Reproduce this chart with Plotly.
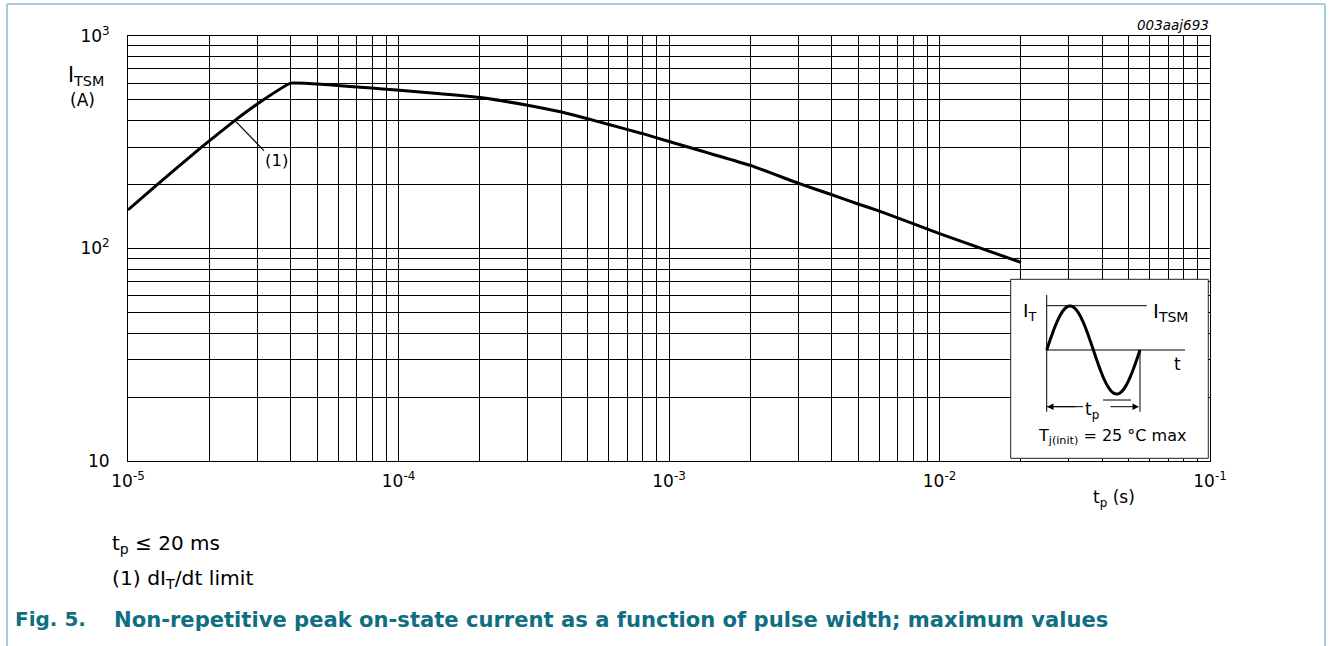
import numpy as np
import plotly.graph_objects as go

# ---- data ----
tp_s = [1e-5, 1.26e-5, 1.87e-5, 2.48e-5, 3.16e-5, 4e-5, 8.5e-5, 1.2e-4, 2e-4, 3e-4,
        4e-4, 5e-4, 6e-4, 8e-4, 1e-3, 2e-3, 3e-3, 4e-3, 5e-3, 6e-3, 1e-2, 2e-2]
itsm_a = [152, 196, 300, 400, 500, 600, 565, 545, 513, 472,
          439, 408, 383, 347, 319, 246, 203, 179, 162, 150, 117.5, 86]

x_decades = [1e-5, 1e-4, 1e-3, 1e-2, 1e-1]
x_ticklabels = ["10<sup>-5</sup>", "10<sup>-4</sup>", "10<sup>-3</sup>", "10<sup>-2</sup>", "10<sup>-1</sup>"]
y_decades = [10, 100, 1000]
y_ticklabels = ["10", "10<sup>2</sup>", "10<sup>3</sup>"]
grid_multipliers = [2, 3, 4, 5, 6, 7, 8, 9]

FONT = "DejaVu Sans, Liberation Sans, Arial, sans-serif"
TEAL = "#0f6e82"
FRAME = "#a6cfd9"

W, H = 1330, 646
L, R, T, B = 128, 1210, 36, 461


def px(x):
    return (x - L) / (R - L)


def py(y):
    return (B - y) / (B - T)


def minor_vals(decades):
    return [d * m for d in decades[:-1] for m in grid_multipliers]


fig = go.Figure()
fig.add_trace(go.Scatter(x=tp_s, y=itsm_a, mode="lines", line_shape="spline",
                         line=dict(color="black", width=3, smoothing=0.3), showlegend=False,
                         hoverinfo="skip"))

common = dict(showgrid=True, gridcolor="black", gridwidth=1,
              showline=True, linecolor="black", linewidth=1, mirror=True,
              ticks="outside", tickcolor="rgba(0,0,0,0)",
              tickfont=dict(family=FONT, size=17, color="black"), zeroline=False)

fig.update_xaxes(type="log", range=[-5, -1], tickmode="array", tickvals=x_decades,
                 ticktext=x_ticklabels, ticklen=5,
                 minor=dict(tickmode="array", tickvals=minor_vals(x_decades), showgrid=True,
                            gridcolor="black", gridwidth=1, ticks=""),
                 **common)
fig.update_yaxes(type="log", range=[1, 3], tickmode="array", tickvals=y_decades,
                 ticktext=y_ticklabels, ticklen=14,
                 minor=dict(tickmode="array", tickvals=minor_vals(y_decades), showgrid=True,
                            gridcolor="black", gridwidth=1, ticks=""),
                 **common)

shapes = []
ann = []

# page frame
for (x0, y0, x1, y1) in [(7, 4, 7, 646), (7, 4, 1325, 4), (1325, 4, 1325, 646)]:
    shapes.append(dict(type="line", xref="paper", yref="paper", x0=px(x0), y0=py(y0),
                       x1=px(x1), y1=py(y1), line=dict(color=FRAME, width=2)))

# pointer for (1)
shapes.append(dict(type="line", xref="paper", yref="paper", x0=px(235), y0=py(120.7),
                   x1=px(264), y1=py(150.7), line=dict(color="black", width=1.2)))

# inset box
shapes.append(dict(type="rect", xref="paper", yref="paper", x0=px(1010.7), y0=py(458.3),
                   x1=px(1208.3), y1=py(279.3), fillcolor="white",
                   line=dict(color="#222", width=1), layer="above"))
inset_lines = [
    (1046.7, 295, 1046.7, 411.7),
    (1046.7, 305.7, 1146.7, 305.7),
    (1046.7, 350, 1185, 350),
    (1140, 350, 1140, 411.7),
    (1047, 406.7, 1083, 406.7),
    (1103, 400, 1131, 400),
]
for (x0, y0, x1, y1) in inset_lines:
    shapes.append(dict(type="line", xref="paper", yref="paper", x0=px(x0), y0=py(y0),
                       x1=px(x1), y1=py(y1), line=dict(color="black", width=1), layer="above"))

# sine illustration in the inset
ph = np.linspace(0, 2 * np.pi, 80)
sx = 1046.7 + (1140 - 1046.7) * ph / (2 * np.pi)
sy = 350 - 44 * np.sin(ph)
path = "M " + " L ".join(f"{px(a):.5f},{py(b):.5f}" for a, b in zip(sx, sy))
shapes.append(dict(type="path", xref="paper", yref="paper", path=path,
                   line=dict(color="black", width=3), layer="above"))

# arrow heads
ann.append(dict(xref="paper", yref="paper", x=px(1047), y=py(406.7), ax=30, ay=0,
                text="", showarrow=True, arrowhead=2, arrowsize=1.3, arrowwidth=1, arrowcolor="black"))
ann.append(dict(xref="paper", yref="paper", x=px(1139), y=py(406.7), ax=-30, ay=0,
                text="", showarrow=True, arrowhead=2, arrowsize=1.3, arrowwidth=1, arrowcolor="black"))


def text(x, y, s, size=17, xanchor="center", color="black", bold=False, italic=False):
    if bold:
        s = f"<b>{s}</b>"
    if italic:
        s = f"<i>{s}</i>"
    ann.append(dict(xref="paper", yref="paper", x=px(x), y=py(y), text=s, showarrow=False,
                    xanchor=xanchor, yanchor="middle",
                    font=dict(family=FONT, size=size, color=color)))


text(1021, 312, "I<sub>T</sub>", size=18.5, xanchor="left")
text(1151, 312, "I<sub>TSM</sub>", size=20, xanchor="left")
text(1177, 364, "t", size=17)
text(1092, 410, "t<sub>p</sub>", size=17)
text(1112, 436, "T<sub>j(init)</sub> = 25 °C max", size=16)

text(1211, 25, "003aaj693", size=13.5, xanchor="right", italic=True)
text(86, 76, "I<sub>TSM</sub>", size=20.5)
text(82, 100, "(A)", size=17)
text(276, 160, "(1)", size=16.5)
text(1114, 498, "t<sub>p</sub> (s)", size=17)
text(110, 544, "t<sub>p</sub> ≤ 20 ms", size=20, xanchor="left")
text(110, 579, "(1) dI<sub>T</sub>/dt limit", size=20.3, xanchor="left")
text(13, 619, "Fig. 5.", size=20, xanchor="left", color=TEAL, bold=True)
text(112, 619, "Non-repetitive peak on-state current as a function of pulse width; maximum values",
     size=21.1, xanchor="left", color=TEAL, bold=True)

fig.update_layout(width=W, height=H, margin=dict(l=L, r=W - R, t=T, b=H - B),
                  paper_bgcolor="white", plot_bgcolor="white",
                  shapes=shapes, annotations=ann, showlegend=False,
                  font=dict(family=FONT, size=17, color="black"))

fig.write_html("out.html", config={"displayModeBar": False},
               post_script="document.body.style.margin='0px';document.body.style.overflow='hidden';")
